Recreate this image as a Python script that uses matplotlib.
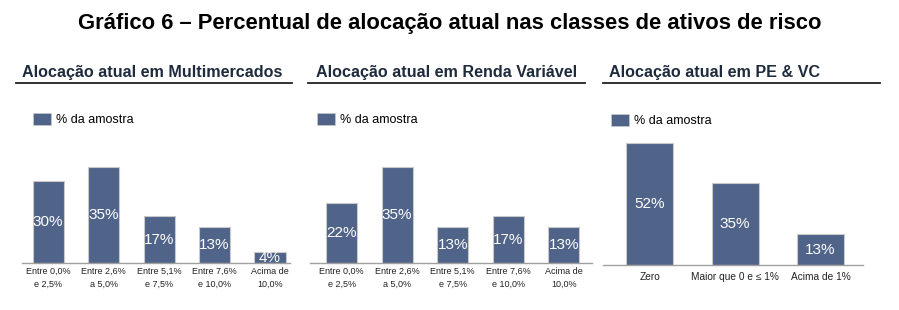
import matplotlib.pyplot as plt
from matplotlib.patches import Patch
from matplotlib.lines import Line2D

plt.rcParams['font.family'] = ['Liberation Sans', 'DejaVu Sans']

# data
cats_faixa = ["Entre 0,0%\ne 2,5%", "Entre 2,6%\na 5,0%", "Entre 5,1%\ne 7,5%",
              "Entre 7,6%\ne 10,0%", "Acima de\n10,0%"]
multimercados = [30, 35, 17, 13, 4]
renda_variavel = [22, 35, 13, 17, 13]
cats_pe = ["Zero", "Maior que 0 e \u2264 1%", "Acima de 1%"]
pe_vc = [52, 35, 13]
titles = ["Aloca\u00e7\u00e3o atual em Multimercados",
          "Aloca\u00e7\u00e3o atual em Renda Vari\u00e1vel",
          "Aloca\u00e7\u00e3o atual em PE & VC"]
legend_label = "% da amostra"

W, H = 899, 310
bar_color = "#506388"
title_color = "#1e2b3c"

fig = plt.figure(figsize=(W / 100, H / 100), dpi=100)
fig.text(0.5, 1 - 23 / H, "Gr\u00e1fico 6 \u2013 Percentual de aloca\u00e7\u00e3o atual nas classes de ativos de risco",
         ha="center", va="center", fontsize=15.8, fontweight="bold", color="black")


def px_axes(left, right, base, height):
    return fig.add_axes([left / W, (H - base) / H, (right - left) / W, height / H])


def panel(ax, cats, vals, width, xlim, ylim, title, tx, line_x, leg_xy, pad, tick_fs):
    x = range(len(vals))
    bars = ax.bar(x, vals, width=width, color=bar_color, edgecolor="#c9c9c9", linewidth=0.8)
    for b, v in zip(bars, vals):
        ax.text(b.get_x() + b.get_width() / 2, v / 2, f"{v}%", ha="center", va="center",
                color="white", fontsize=11)
    ax.set_xlim(*xlim)
    ax.set_ylim(*ylim)
    ax.set_xticks(list(x))
    ax.set_xticklabels(cats, fontsize=tick_fs, color="#222222")
    for lbl in ax.get_xticklabels():
        lbl.set_linespacing(1.45)
    ax.tick_params(axis="x", length=0, pad=pad)
    ax.set_yticks([])
    for s in ["top", "right", "left"]:
        ax.spines[s].set_visible(False)
    ax.spines["bottom"].set_color("#a0a0a0")
    ax.spines["bottom"].set_linewidth(1.0)
    ax.patch.set_alpha(0)
    fig.text(tx / W, 1 - 72 / H, title, ha="left", va="center", fontsize=11.6,
             fontweight="bold", color=title_color)
    fig.add_artist(Line2D([line_x[0] / W, line_x[1] / W], [1 - 83 / H, 1 - 83 / H],
                          color="#222222", linewidth=1.3))
    ax.legend(handles=[Patch(facecolor=bar_color, edgecolor="#c9c9c9", linewidth=0.5)],
              labels=[legend_label], loc="upper left",
              bbox_to_anchor=(leg_xy[0] / W, 1 - leg_xy[1] / H), bbox_transform=fig.transFigure,
              frameon=False, fontsize=9, handlelength=1.4, handleheight=1.1,
              handletextpad=0.45, borderpad=0, borderaxespad=0)


ax1 = px_axes(22, 290, 263, 45 * 2.75)
panel(ax1, cats_faixa, multimercados, 0.56, (-0.47, 4.36), (0, 45), titles[0], 22, (16, 292),
      (33, 113), 3, 6.5)

ax2 = px_axes(310, 592, 263, 45 * 2.75)
panel(ax2, cats_faixa, renda_variavel, 0.56, (-0.57, 4.51), (0, 45), titles[1], 316, (308, 585),
      (317, 113), 3, 6.5)

ax3 = px_axes(603, 863, 265, 60 * 2.35)
panel(ax3, cats_pe, pe_vc, 0.55, (-0.55, 2.5), (0, 60), titles[2], 609, (603, 880),
      (611, 114), 5, 7.3)

fig.savefig("out.png", dpi=100)
